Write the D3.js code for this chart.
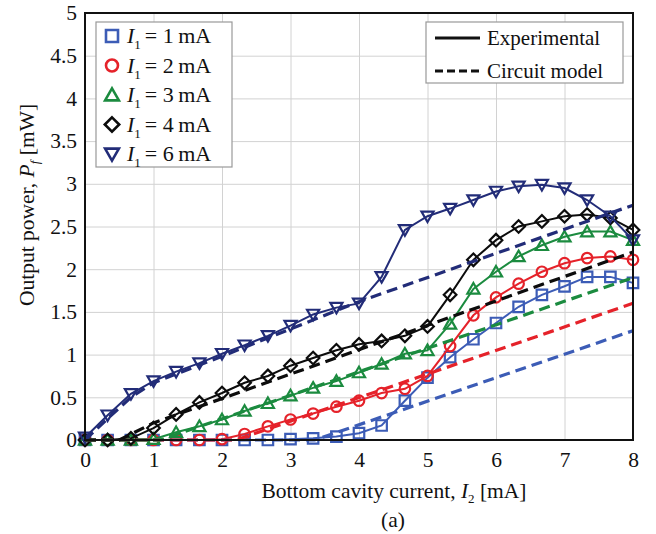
<!DOCTYPE html>
<html lang="en">
<head>
    <meta charset="UTF-8">
    <script src="https://d3js.org/d3.v7.min.js"></script>
    <title>Output power vs bottom cavity current</title>
    <style>
        body { margin: 0; background: white; }
        svg { font-family: "Liberation Serif", "Times New Roman", serif; }
        .grid line { stroke: #d2d2d2; stroke-width: 1; }
        .grid path { display: none; }
        .grid text { font-size: 21.5px; fill: #111; font-family: "Liberation Serif", "Times New Roman", serif; }
    </style>
</head>
<body>
<script>
    // bottom cavity current I2 [mA], one measurement every third of a mA
    var current = [0, 0.33, 0.67, 1, 1.33, 1.67, 2, 2.33, 2.67, 3, 3.33, 3.67, 4,
        4.33, 4.67, 5, 5.33, 5.67, 6, 6.33, 6.67, 7, 7.33, 7.67, 8];

    // experimental output power [mW]
    var exp1mA = [0, 0, 0, 0, 0, 0, 0, 0, 0, 0.01, 0.02, 0.04, 0.08,
        0.17, 0.46, 0.73, 0.97, 1.18, 1.37, 1.56, 1.7, 1.8, 1.91, 1.91, 1.84];
    var exp2mA = [0, 0, 0, 0, 0, 0, 0.01, 0.07, 0.16, 0.24, 0.31, 0.39, 0.46,
        0.55, 0.6, 0.75, 1.1, 1.46, 1.67, 1.83, 1.97, 2.07, 2.13, 2.15, 2.11];
    var exp3mA = [0, 0, 0, 0.01, 0.09, 0.16, 0.24, 0.34, 0.43, 0.52, 0.61, 0.69, 0.79,
        0.89, 1.01, 1.05, 1.36, 1.77, 1.97, 2.15, 2.28, 2.38, 2.44, 2.44, 2.34];
    var exp4mA = [0, 0, 0.02, 0.14, 0.3, 0.44, 0.55, 0.67, 0.75, 0.87, 0.96, 1.05, 1.12,
        1.16, 1.22, 1.33, 1.7, 2.11, 2.34, 2.5, 2.56, 2.62, 2.64, 2.6, 2.46];
    var exp6mA = [0.03, 0.29, 0.54, 0.69, 0.8, 0.9, 1.01, 1.11, 1.22, 1.34, 1.47, 1.55, 1.6,
        1.91, 2.46, 2.62, 2.71, 2.81, 2.91, 2.97, 2.99, 2.95, 2.81, 2.62, 2.34];

    // circuit model: breakpoints (current, power)
    var model1mA = [[0, 0], [3.35, 0], [8, 1.28]];
    var model2mA = [[0, 0], [2.2, 0], [8, 1.6]];
    var model3mA = [[0, 0], [1.1, 0], [8, 1.9]];
    var model4mA = [[0, 0], [0.5, 0], [1, 0.2], [8, 2.2]];
    var model6mA = [[0, 0], [0.33, 0.25], [0.67, 0.5], [1, 0.67], [2, 0.98], [3, 1.3], [4, 1.62], [8, 2.75]];

    var seriesNames = ["1", "2", "3", "4", "6"];
    var seriesColors = ["#3c5cb6", "#e5222a", "#1b8b3f", "#0c0c0c", "#222c78"];
    var seriesShapes = ["square", "circle", "triangleUp", "diamond", "triangleDown"];
    var xTicks = [0, 1, 2, 3, 4, 5, 6, 7, 8];
    var yTicks = [0, 0.5, 1, 1.5, 2, 2.5, 3, 3.5, 4, 4.5, 5];

    var expData = [exp1mA, exp2mA, exp3mA, exp4mA, exp6mA];
    var modelData = [model1mA, model2mA, model3mA, model4mA, model6mA];

    var svg = d3.select("body").append("svg")
        .attr("width", 656)
        .attr("height", 534);

    var plotLeft = 85, plotTop = 13, width = 548, height = 427;
    var xScale = d3.scaleLinear().domain([0, 8]).range([0, width]);
    var yScale = d3.scaleLinear().domain([0, 5]).range([height, 0]);

    var g = svg.append("g").attr("transform", "translate(" + plotLeft + "," + plotTop + ")");

    // grid + tick labels
    g.append("g").attr("class", "grid")
        .attr("transform", "translate(0," + height + ")")
        .call(d3.axisBottom(xScale).tickValues(xTicks).tickSize(-height).tickPadding(12)
            .tickFormat(d3.format("d")));
    g.append("g").attr("class", "grid")
        .call(d3.axisLeft(yScale).tickValues(yTicks).tickSize(-width).tickPadding(8)
            .tickFormat(function(d){ return d; }));

    function markerPath(shape, s) {
        var h = s / 2;
        if (shape == "square") return "M" + (-h) + "," + (-h) + "h" + s + "v" + s + "h" + (-s) + "Z";
        if (shape == "diamond") return "M0," + (-h * 1.2) + "L" + (h * 1.2) + ",0L0," + (h * 1.2) + "L" + (-h * 1.2) + ",0Z";
        if (shape == "triangleUp") return "M0," + (-h * 1.1) + "L" + (h * 1.15) + "," + (h * 0.9) + "L" + (-h * 1.15) + "," + (h * 0.9) + "Z";
        if (shape == "triangleDown") return "M0," + (h * 1.1) + "L" + (h * 1.15) + "," + (-h * 0.9) + "L" + (-h * 1.15) + "," + (-h * 0.9) + "Z";
        return d3.arc()({innerRadius: 0, outerRadius: h, startAngle: 0, endAngle: 2 * Math.PI});
    }

    var line = d3.line()
        .x(function(d){ return xScale(d[0]); })
        .y(function(d){ return yScale(d[1]); });

    for (let k = 0; k < seriesNames.length; k++) {
        var pts = current.map(function(c, i){ return [c, expData[k][i]]; });
        g.append("path")
            .attr("d", line(pts))
            .attr("fill", "none")
            .attr("stroke", seriesColors[k])
            .attr("stroke-width", 2);
        g.selectAll(".m" + k).data(pts).enter().append("path")
            .attr("class", "m" + k)
            .attr("transform", function(d){ return "translate(" + xScale(d[0]) + "," + yScale(d[1]) + ")"; })
            .attr("d", markerPath(seriesShapes[k], 10.5))
            .attr("fill", "none")
            .attr("stroke", seriesColors[k])
            .attr("stroke-width", 2.2);
    }
    for (let k = 0; k < seriesNames.length; k++) {
        g.append("path")
            .attr("d", line(modelData[k]))
            .attr("fill", "none")
            .attr("stroke", seriesColors[k])
            .attr("stroke-width", 3.2)
            .attr("stroke-dasharray", "11,6");
    }

    // frame
    g.append("rect")
        .attr("width", width).attr("height", height)
        .attr("fill", "none").attr("stroke", "#111").attr("stroke-width", 2);

    // legend of currents
    var leg = svg.append("g").attr("transform", "translate(96,22)");
    leg.append("rect").attr("width", 136).attr("height", 145)
        .attr("fill", "white").attr("stroke", "#999").attr("stroke-width", 1.2);
    seriesNames.forEach(function(name, k){
        var yy = 14 + k * 29.5;
        leg.append("path")
            .attr("transform", "translate(16," + yy + ")")
            .attr("d", markerPath(seriesShapes[k], 12))
            .attr("fill", "none")
            .attr("stroke", seriesColors[k])
            .attr("stroke-width", 2.6);
        var t = leg.append("text").attr("x", 31).attr("y", yy + 7).attr("font-size", 22).attr("fill", "#111");
        t.append("tspan").attr("font-style", "italic").text("I");
        t.append("tspan").attr("font-size", 13).attr("dy", 6).text("1");
        t.append("tspan").attr("dy", -6).attr("dx", 4).text("= " + name + "\u2009mA");
    });

    // legend of line styles
    var leg2 = svg.append("g").attr("transform", "translate(426,22)");
    leg2.append("rect").attr("width", 197).attr("height", 61)
        .attr("fill", "white").attr("stroke", "#999").attr("stroke-width", 1.2);
    var styles = [["Experimental", null], ["Circuit model", "8,4"]];
    styles.forEach(function(s, i){
        var yy = 16 + i * 33;
        leg2.append("line").attr("x1", 9).attr("x2", 54).attr("y1", yy).attr("y2", yy)
            .attr("stroke", "#111").attr("stroke-width", 3)
            .attr("stroke-dasharray", s[1]);
        leg2.append("text").attr("x", 61).attr("y", yy + 7).attr("font-size", 21)
            .attr("fill", "#111").text(s[0]);
    });

    // axis titles
    var xt = svg.append("text").attr("x", 394).attr("y", 498)
        .attr("text-anchor", "middle").attr("font-size", 21.5).attr("fill", "#111");
    xt.append("tspan").text("Bottom cavity current, ");
    xt.append("tspan").attr("font-style", "italic").text("I");
    xt.append("tspan").attr("font-size", 13).attr("dy", 5).text("2");
    xt.append("tspan").attr("dy", -5).text(" [mA]");

    svg.append("text").attr("x", 393).attr("y", 527)
        .attr("text-anchor", "middle").attr("font-size", 21.5).attr("fill", "#111").text("(a)");

    var yt = svg.append("text")
        .attr("transform", "translate(34,205) rotate(-90)")
        .attr("text-anchor", "middle").attr("font-size", 21.5).attr("fill", "#111");
    yt.append("tspan").text("Output power, ");
    yt.append("tspan").attr("font-style", "italic").text("P");
    yt.append("tspan").attr("font-style", "italic").attr("font-size", 13).attr("dy", 5).text("f");
    yt.append("tspan").attr("dy", -5).text(" [mW]");
</script>
</body>
</html>
